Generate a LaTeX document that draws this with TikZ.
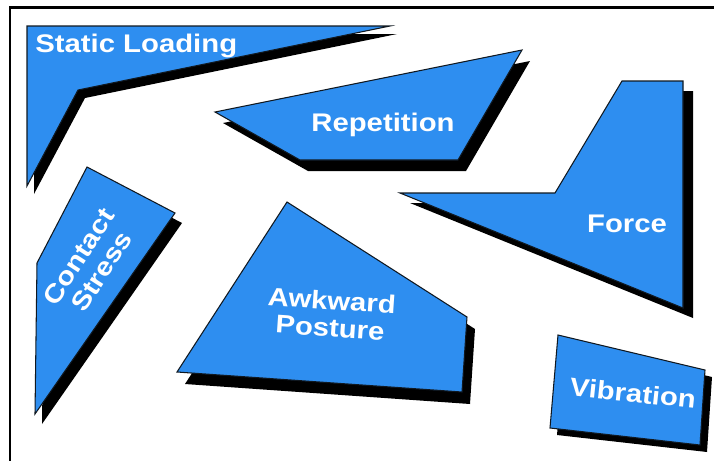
\documentclass[tikz,border=0pt]{standalone}
\usepackage{fontspec}
\newfontfamily\tagfont[FakeStretch=1.15]{Liberation Sans}
\usetikzlibrary{positioning}
\definecolor{riskblue}{HTML}{2E8EF0}
\definecolor{inkline}{HTML}{101820}

\begin{document}
\begin{tikzpicture}[
  x=0.02cm, y=-0.02cm,
  dropshade/.style={fill=black},
  facet/.style={fill=riskblue, draw=inkline, line width=0.6pt, line join=miter},
  riskname/.style={text=white, align=center, inner sep=0pt,
    font=\tagfont\bfseries\fontsize{14.5}{15.5}\selectfont},
]
\useasboundingbox (0,0) rectangle (714,461);

% Frame (only top and left edges show)
\draw[line width=1.7pt] (714,7) -- (10,7) -- (10,461);

% =============================================
% Static Loading
% =============================================
\fill[dropshade, shift={(7,8)}] (27,26) -- (390,26) -- (78,90) -- (27,186) -- cycle;
\draw[facet] (27,26) -- (390,26) -- (78,90) -- (27,186) -- cycle;
\node[riskname, anchor=base west] (static) at (35,52) {Static Loading};

% =============================================
% Repetition
% =============================================
\fill[dropshade, shift={(8,11)}] (215,112) -- (522,50) -- (458,160) -- (300,160) -- cycle;
\draw[facet] (215,112) -- (522,50) -- (458,160) -- (300,160) -- cycle;
\node[riskname, anchor=base] (repetition) at (383,131) {Repetition};

% =============================================
% Force
% =============================================
\fill[dropshade, shift={(10,10)}] (622,81) -- (683,81) -- (683,308) -- (400,193) -- (555,193) -- cycle;
\draw[facet] (622,81) -- (683,81) -- (683,308) -- (400,193) -- (555,193) -- cycle;
\node[riskname, anchor=base] (force) at (627,232) {Force};

% =============================================
% Contact Stress
% =============================================
\fill[dropshade, shift={(7,10)}] (87,167) -- (175,213) -- (35,414) -- (37,263) -- cycle;
\draw[facet] (87,167) -- (175,213) -- (35,414) -- (37,263) -- cycle;
\node[riskname, rotate=57] (contact) at (90,264) {Contact\\Stress};

% =============================================
% Awkward Posture
% =============================================
\fill[dropshade, shift={(8,12)}] (287,202) -- (467,317) -- (462,392) -- (177,372) -- cycle;
\draw[facet] (287,202) -- (467,317) -- (462,392) -- (177,372) -- cycle;
\node[riskname, rotate=-4] (awkward) at (331,314) {Awkward\\Posture};

% =============================================
% Vibration
% =============================================
\fill[dropshade, shift={(7,7)}] (558,335) -- (705,370) -- (700,445) -- (550,428) -- cycle;
\draw[facet] (558,335) -- (705,370) -- (700,445) -- (550,428) -- cycle;
\node[riskname, rotate=-6] (vibration) at (633,393) {Vibration};

\end{tikzpicture}
\end{document}
